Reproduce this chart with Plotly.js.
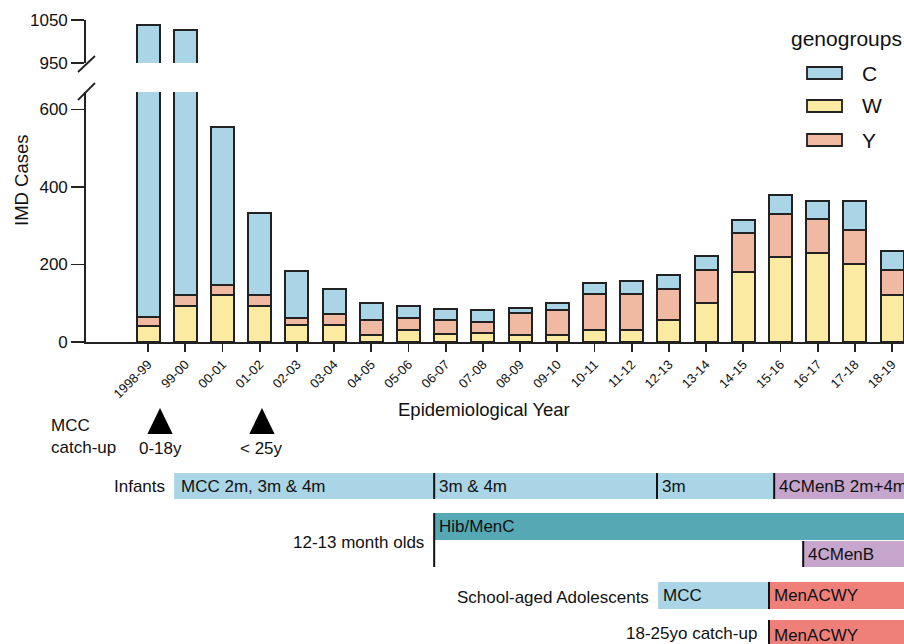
<!DOCTYPE html>
<html>
<head>
<meta charset="utf-8">
<script src="https://cdn.plot.ly/plotly-3.0.1.min.js"></script>
<style>html,body{margin:0;padding:0;background:#fff;}#chart{width:904px;height:644px;}</style>
</head>
<body>
<div id="chart"></div>
<script>
// ---------- data ----------
const years = ['1998-99','99-00','00-01','01-02','02-03','03-04','04-05','05-06','06-07','07-08','08-09','09-10','10-11','11-12','12-13','13-14','14-15','15-16','16-17','17-18','18-19'];
const casesW = [42,94,120,93,44,45,17,31,21,24,17,19,32,32,56,100,181,220,230,200,121];
const casesY = [23,26,26,28,18,27,40,30,35,28,59,64,93,92,81,87,99,110,87,89,64];
const casesC = [973,907,410,212,121,66,44,31,30,30,13,18,26,34,36,34,34,48,46,74,49];
const seriesNames = ['W','Y','C'];
const legendOrder = ['C','W','Y'];

// catch-up campaigns (position in epidemiological-year index units)
const catchupPos = [0.32, 3.06];
const catchupText = ['0-18y','< 25y'];

// vaccination schedule rows: segment start (year index), end, label, colour key
const infantStart = [0.70, 7.69, 13.68, 16.83];
const infantEnd   = [7.69, 13.68, 16.83, 22];
const infantText  = ['MCC 2m, 3m & 4m','3m & 4m','3m','4CMenB 2m+4m'];
const infantCol   = ['mcc','mcc','mcc','menb'];
const toddlerStart = [7.69, 17.61];
const toddlerEnd   = [22, 22];
const toddlerText  = ['Hib/MenC','4CMenB'];
const toddlerCol   = ['hib','menb'];
const adolStart = [13.71, 16.69];
const adolEnd   = [16.69, 22];
const adolText  = ['MCC','MenACWY'];
const adolCol   = ['mcc','acwy'];
const ycuStart = [16.69];
const ycuEnd   = [22];
const ycuText  = ['MenACWY'];
const ycuCol   = ['acwy'];
const rowLabels = ['Infants','12-13 month olds','School-aged Adolescents','18-25yo catch-up'];

// ---------- styles ----------
const colours = {C:'#a9d5e6', W:'#fbeaa1', Y:'#f0b9a2'};
const segCols = {mcc:'#a9d5e6', menb:'#c7a6cd', hib:'#55a8b4', acwy:'#ee8079'};
const FONT = 'Liberation Sans, Arial, Helvetica, sans-serif';
const INK = '#222';
const TXT = 17;
const seriesValues = {W:casesW, Y:casesY, C:casesC};

const L = 86, T = 20, PW = 818, PH = 322;
const fx = px => (px - L) / PW;
const fy = py => (T + PH - py) / PH;
const idx = years.map((_, i) => i);

// ---------- traces ----------
const traces = [];
['y','y2'].forEach(ax => {
  seriesNames.forEach(s => {
    traces.push({
      type:'bar', x:idx, y:seriesValues[s], name:s, yaxis:ax, xaxis:'x',
      marker:{color:colours[s], line:{color:INK, width:2}},
      showlegend:false, hoverinfo:'x+y+name'
    });
  });
});

// ---------- shapes & annotations ----------
const shapes = [];
const annotations = [];

// axis break slashes
[[78,72,95,56],[78,100,95,83]].forEach(s => {
  shapes.push({type:'line', xref:'paper', yref:'paper', x0:fx(s[0]), y0:fy(s[1]), x1:fx(s[2]), y1:fy(s[3]), line:{color:INK, width:1.8}});
});

// axis titles
annotations.push({xref:'paper', yref:'paper', x:fx(21), y:fy(180), text:'IMD Cases', textangle:-90, showarrow:false, font:{family:FONT, size:18.5, color:'#111'}, xanchor:'center', yanchor:'middle'});
annotations.push({xref:'paper', yref:'paper', x:fx(484), y:fy(409), text:'Epidemiological Year', showarrow:false, font:{family:FONT, size:18.5, color:'#111'}, xanchor:'center', yanchor:'middle'});

// legend (manual)
annotations.push({xref:'paper', yref:'paper', x:fx(846), y:fy(39), text:'genogroups', showarrow:false, font:{family:FONT, size:21, color:'#111'}, xanchor:'center', yanchor:'middle'});
const legY = [73, 106, 140];
legendOrder.forEach((s, i) => {
  shapes.push({type:'rect', xref:'paper', yref:'paper', x0:fx(807), x1:fx(842), y0:fy(legY[i]-6), y1:fy(legY[i]+6), fillcolor:colours[s], line:{color:INK, width:1.8}});
  annotations.push({xref:'paper', yref:'paper', x:fx(860), y:fy(legY[i]), text:s, showarrow:false, font:{family:FONT, size:21, color:'#111'}, xanchor:'left', yanchor:'middle'});
});

// MCC catch-up
annotations.push({xref:'paper', yref:'paper', x:fx(49), y:fy(436), text:'MCC<br>catch-up', align:'left', showarrow:false, font:{family:FONT, size:TXT, color:'#111'}, xanchor:'left', yanchor:'middle'});
catchupPos.forEach((p, i) => {
  shapes.push({type:'path', xref:'x', yref:'paper', path:`M ${p-0.34} ${fy(434)} L ${p+0.34} ${fy(434)} L ${p} ${fy(408)} Z`, fillcolor:'#000', line:{color:'#000', width:0}});
  annotations.push({xref:'x', yref:'paper', x:p, y:fy(448), text:catchupText[i], showarrow:false, font:{family:FONT, size:TXT, color:'#111'}, xanchor:'center', yanchor:'middle'});
});

// schedule rows
function drawRow(starts, ends, texts, cols, y0, y1) {
  starts.forEach((s, i) => {
    shapes.push({type:'rect', xref:'x', yref:'paper', x0:s, x1:ends[i], y0:fy(y1), y1:fy(y0), fillcolor:segCols[cols[i]], line:{width:0}, layer:'below'});
    annotations.push({xref:'x', yref:'paper', x:s, xshift:i===0 && s<1 ? 5 : 3, y:fy((y0+y1)/2), text:texts[i], showarrow:false, font:{family:FONT, size:TXT, color:'#111'}, xanchor:'left', yanchor:'middle'});
  });
}
function sep(x, y0, y1) {
  shapes.push({type:'line', xref:'x', yref:'paper', x0:x, x1:x, y0:fy(y0), y1:fy(y1), line:{color:'#111', width:2}});
}
// Infants
drawRow(infantStart, infantEnd, infantText, infantCol, 473, 499);
sep(infantStart[1], 473, 499); sep(infantStart[2], 473, 499); sep(infantStart[3], 473, 499);
annotations.push({xref:'x', yref:'paper', x:infantStart[0], xshift:-7, y:fy(486), text:rowLabels[0], showarrow:false, font:{family:FONT, size:TXT, color:'#111'}, xanchor:'right', yanchor:'middle'});
// 12-13 month olds
drawRow([toddlerStart[0]], [toddlerEnd[0]], [toddlerText[0]], [toddlerCol[0]], 513, 540);
drawRow([toddlerStart[1]], [toddlerEnd[1]], [toddlerText[1]], [toddlerCol[1]], 541, 567);
sep(toddlerStart[0], 513, 567); sep(toddlerStart[1], 541, 567);
annotations.push({xref:'x', yref:'paper', x:toddlerStart[0], xshift:-8, y:fy(542), text:rowLabels[1], showarrow:false, font:{family:FONT, size:TXT, color:'#111'}, xanchor:'right', yanchor:'middle'});
// School-aged adolescents
drawRow(adolStart, adolEnd, adolText, adolCol, 582, 609);
sep(adolStart[1], 582, 609);
annotations.push({xref:'x', yref:'paper', x:adolStart[0], xshift:-7, y:fy(597), text:rowLabels[2], showarrow:false, font:{family:FONT, size:TXT, color:'#111'}, xanchor:'right', yanchor:'middle'});
// 18-25 catch-up
drawRow(ycuStart, ycuEnd, ycuText, ycuCol, 620, 650);
sep(ycuStart[0], 620, 650);
annotations.push({xref:'x', yref:'paper', x:ycuStart[0], xshift:-10, y:fy(633), text:rowLabels[3], showarrow:false, font:{family:FONT, size:TXT, color:'#111'}, xanchor:'right', yanchor:'middle'});

// ---------- layout ----------
const axisCommon = {showline:true, linecolor:INK, linewidth:1.8, ticks:'outside', tickcolor:INK, tickwidth:1.8, showgrid:false, zeroline:false, tickfont:{family:FONT, size:17, color:'#111'}, fixedrange:true};
const layout = {
  width:904, height:644,
  margin:{l:L, r:0, t:T, b:644 - T - PH, pad:0},
  paper_bgcolor:'#fff', plot_bgcolor:'rgba(0,0,0,0)',
  barmode:'stack', bargap:0.38,
  showlegend:false,
  xaxis: Object.assign({}, axisCommon, {
    type:'linear', range:[-1.67, 20.32], domain:[0,1], anchor:'y',
    tickvals:idx, ticktext:years, tickangle:-45, ticklen:8,
    tickfont:{family:FONT, size:13, color:'#111'}
  }),
  yaxis: Object.assign({}, axisCommon, {
    range:[0, 645], domain:[0, fy(92)], anchor:'x',
    tickvals:[0,200,400,600], ticklen:13
  }),
  yaxis2: Object.assign({}, axisCommon, {
    range:[950, 1050], domain:[fy(63), 1], anchor:'x',
    tickvals:[950,1050], ticklen:13
  }),
  shapes:shapes, annotations:annotations,
  font:{family:FONT, color:'#111'}
};
Plotly.newPlot('chart', traces, layout, {displayModeBar:false, staticPlot:true});
</script>
</body>
</html>
